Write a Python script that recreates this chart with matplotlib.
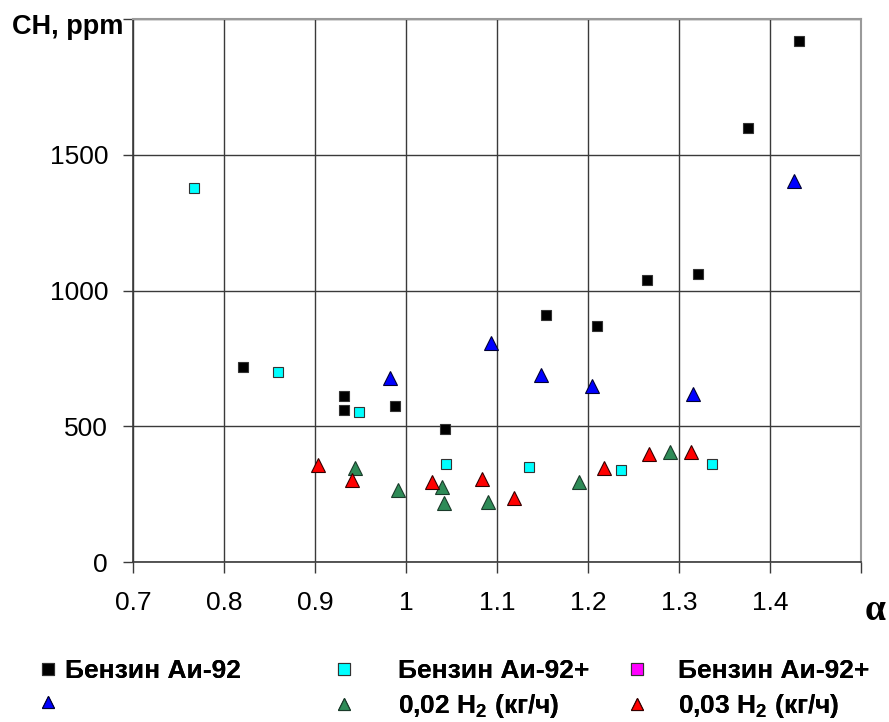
import matplotlib
matplotlib.use("Agg")
import matplotlib.pyplot as plt
from matplotlib.lines import Line2D

plt.rcParams['font.family'] = ['Liberation Sans', 'DejaVu Sans']

# Excess air ratio (alpha) and hydrocarbon emissions (ppm)
ai92_alpha = [0.821, 0.932, 0.932, 0.988, 1.043, 1.154, 1.210, 1.265, 1.321, 1.376, 1.432]
ai92_ch = [720, 610, 560, 573, 489, 908, 868, 1040, 1059, 1599, 1919]

ai92_blue_alpha = [0.982, 1.093, 1.148, 1.204, 1.315, 1.426]
ai92_blue_ch = [676, 805, 688, 647, 618, 1404]

ai92p_alpha = [0.767, 0.859, 0.948, 1.044, 1.135, 1.236, 1.336]
ai92p_ch = [1379, 699, 551, 360, 349, 338, 360]

h2_002_alpha = [0.944, 0.991, 1.040, 1.042, 1.090, 1.190, 1.290]
h2_002_ch = [346, 265, 276, 217, 220, 294, 404]

h2_003_alpha = [0.903, 0.941, 1.029, 1.084, 1.119, 1.218, 1.267, 1.313]
h2_003_ch = [356, 301, 294, 304, 235, 345, 397, 404]

x_ticks = [0.7, 0.8, 0.9, 1.0, 1.1, 1.2, 1.3, 1.4, 1.5]
x_tick_labels = ['0.7', '0.8', '0.9', '1', '1.1', '1.2', '1.3', '1.4', '']
y_ticks = [0, 500, 1000, 1500, 2000]
y_tick_labels = ['0', '500', '1000', '1500', '']

fig = plt.figure(figsize=(8.89, 7.22), dpi=100)
ax = fig.add_axes([133 / 889, 1 - 562 / 722, 728 / 889, 543 / 722])

sq = dict(marker='s', linestyle='none', markersize=7.5, markeredgewidth=0.8)
tri = dict(marker='^', linestyle='none', markersize=10, markeredgewidth=0.8)

ax.plot(ai92_alpha, ai92_ch, color='black', markeredgecolor='#333333', zorder=3, **sq)
ax.plot(ai92p_alpha, ai92p_ch, color='#00FFFF', markeredgecolor='#333333', zorder=3, **sq)
ax.plot(ai92_blue_alpha, ai92_blue_ch, color='#0000FF', markeredgecolor='#000033', zorder=3, **tri)
ax.plot(h2_002_alpha, h2_002_ch, color='#2E8B57', markeredgecolor='#1a3a2a', zorder=3, **tri)
ax.plot(h2_003_alpha, h2_003_ch, color='#FF0000', markeredgecolor='#330000', zorder=3, **tri)

ax.set_xlim(0.7, 1.5)
ax.set_ylim(0, 2000)
ax.set_xticks(x_ticks)
ax.set_xticklabels(x_tick_labels)
ax.set_yticks(y_ticks)
ax.set_yticklabels(y_tick_labels)

ax.grid(True, color='#3a3a3a', linewidth=1.0)
ax.set_axisbelow(True)
for side in ['top', 'right']:
    ax.spines[side].set_color('#9a9a9a')
    ax.spines[side].set_linewidth(1.5)
for side in ['left', 'bottom']:
    ax.spines[side].set_color('#3a3a3a')
    ax.spines[side].set_linewidth(1.2)

ax.tick_params(axis='y', length=7, width=1, color='#3a3a3a', pad=11, labelsize=19)
ax.tick_params(axis='x', length=8, width=1, color='#3a3a3a', pad=13, labelsize=19)

fig.text(12 / 889, 1 - 27 / 722, 'CH, ppm', fontsize=19.5, fontweight='bold',
         ha='left', va='center')
fig.text(875 / 889, 1 - 611 / 722, 'α', fontsize=27, fontweight='bold',
         family=['Liberation Serif', 'DejaVu Serif'], ha='center', va='center')

# Legend laid out as three columns of two entries
def handle(marker, face, edge):
    return Line2D([], [], marker=marker, linestyle='none', markersize=8 if marker == 's' else 9,
                  markerfacecolor=face, markeredgecolor=edge, markeredgewidth=0.8)

leg_kw = dict(frameon=False, prop=dict(size=19, weight='bold'), labelspacing=0.36,
              handlelength=0.8, borderpad=0, borderaxespad=0, loc='upper left')

cols = [
    ([handle('s', 'black', '#333333'), handle('^', '#0000FF', '#000033')],
     ['Бензин Аи-92', ' '], 37.5, 0.25),
    ([handle('s', '#00FFFF', '#333333'), handle('^', '#2E8B57', '#1a3a2a')],
     ['Бензин Аи-92+', '0,02 H$\\mathregular{_2}$ (кг/ч)'], 333.5, 1.65),
    ([handle('s', '#FF00FF', '#333333'), handle('^', '#FF0000', '#330000')],
     ['Бензин Аи-92+', '0,03 H$\\mathregular{_2}$ (кг/ч)'], 626.5, 1.16),
]
for handles, labels, x0, pad in cols:
    leg = fig.legend(handles, labels, bbox_to_anchor=(x0 / 889, 1 - 659 / 722),
                     handletextpad=pad, **leg_kw)
    fig.add_artist(leg)

fig.savefig('out.png', dpi=100)
